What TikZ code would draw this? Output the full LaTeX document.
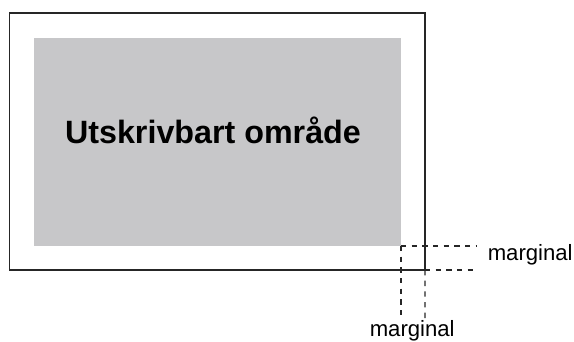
\documentclass[tikz,border=0pt]{standalone}
\usepackage{fontspec}
\setmainfont{Liberation Sans}
\usepackage{tikz}
\usetikzlibrary{calc,positioning}
\definecolor{printgray}{RGB}{199,199,201}
\tikzset{fontscale/.style = {font=\fontsize{16.6}{20}\selectfont}}
\tikzstyle{pagebox}=[rectangle, draw=black!85, line width=1pt, inner sep=0pt, outer sep=0pt]
\tikzstyle{printarea}=[rectangle, fill=printgray, inner sep=0pt, outer sep=0pt]
\tikzstyle{legend_normal}=[rectangle, inner sep=0pt, fontscale]
\tikzstyle{title_text}=[rectangle, inner sep=0pt, font=\fontsize{24.2}{29}\selectfont\bfseries]

\begin{document}
\begin{tikzpicture}[x=0.75pt, y=-0.75pt, margline/.style={line width=0.8pt, black!85, dash pattern=on 4pt off 4pt}]
\useasboundingbox (0,0) rectangle (574,342);

%page and printable area
\node[pagebox, minimum width=311.6pt, minimum height=192.75pt] (page) at (217.25,141.5) {};
\node[printarea, minimum width=275.25pt, minimum height=156pt] (print) at (217.5,142) {};

%dummy nodes
\coordinate (r1) at (477,246);
\coordinate (r2) at (477,270);
\coordinate (b1) at (401,318);
\coordinate (b2) at (425,318);

 % Margin lines
  \draw[margline] (print.south east) -- (r1);
  \draw[margline] (page.south east) -- (r2);
  \draw[margline] (print.south east) -- (b1);
  \draw[margline] (page.south east) -- (b2);

 % Legends
  \node[title_text, anchor=base] (title) at (213,143.3) {Utskrivbart område};
  \node[legend_normal, anchor=base west] (mright) at (487.5,260.7) {marginal};
  \node[legend_normal, anchor=base west] (mbottom) at (369.5,336) {marginal};
\end{tikzpicture}
\end{document}
